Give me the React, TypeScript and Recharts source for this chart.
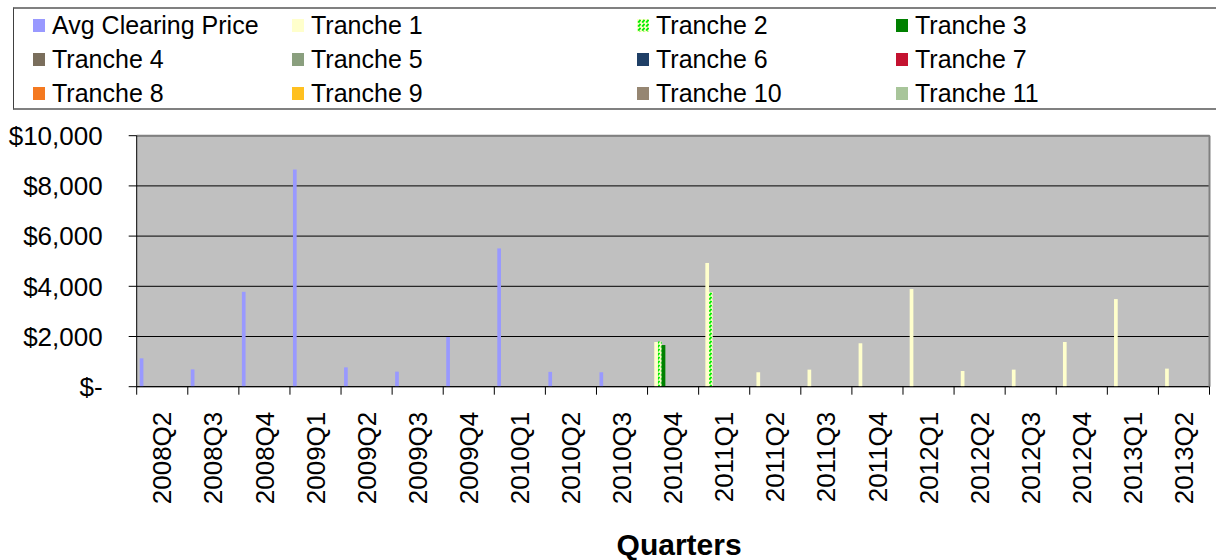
import React from 'react';
import { BarChart, Bar, XAxis, YAxis, CartesianGrid, Legend, ReferenceLine } from 'recharts';

const quarters = [
  '2008Q2', '2008Q3', '2008Q4', '2009Q1', '2009Q2', '2009Q3', '2009Q4',
  '2010Q1', '2010Q2', '2010Q3', '2010Q4', '2011Q1', '2011Q2', '2011Q3',
  '2011Q4', '2012Q1', '2012Q2', '2012Q3', '2012Q4', '2013Q1', '2013Q2',
];

const avgClearingPrice = [1130, 690, 3780, 8650, 770, 600, 1980, 5510, 590, 575, null, null, null, null, null, null, null, null, null, null, null];
const tranche1 = [null, null, null, null, null, null, null, null, null, null, 1780, 4930, 575, 680, 1730, 3890, 625, 680, 1780, 3490, 720];
const tranche2 = [null, null, null, null, null, null, null, null, null, null, 1800, 3770, null, null, null, null, null, null, null, null, null];
const tranche3 = [null, null, null, null, null, null, null, null, null, null, 1660, null, null, null, null, null, null, null, null, null, null];
const tranche4: (number | null)[] = [];
const tranche5: (number | null)[] = [];
const tranche6: (number | null)[] = [];
const tranche7: (number | null)[] = [];
const tranche8: (number | null)[] = [];
const tranche9: (number | null)[] = [];
const tranche10: (number | null)[] = [];
const tranche11: (number | null)[] = [];

const seriesNames = [
  'Avg Clearing Price', 'Tranche 1', 'Tranche 2', 'Tranche 3',
  'Tranche 4', 'Tranche 5', 'Tranche 6', 'Tranche 7',
  'Tranche 8', 'Tranche 9', 'Tranche 10', 'Tranche 11',
];
const seriesValues = [
  avgClearingPrice, tranche1, tranche2, tranche3, tranche4, tranche5,
  tranche6, tranche7, tranche8, tranche9, tranche10, tranche11,
];
const seriesColors = [
  '#9999FF', '#FFFFCC', 'url(#tranche2Pattern)', '#008000',
  '#7A6E5C', '#8A9F7E', '#1F3F66', '#C41230',
  '#F47920', '#FFC020', '#968672', '#A8C59A',
];

const yTicks = [0, 2000, 4000, 6000, 8000, 10000];

const data = quarters.map((q, i) => {
  const row: Record<string, any> = { quarter: q };
  seriesNames.forEach((name, k) => {
    const v = seriesValues[k][i];
    row[name] = v === undefined ? null : v;
  });
  return row;
});

const FONT = '"Liberation Sans", Arial, sans-serif';

const formatDollar = (v: number) => (v === 0 ? '$-' : '$' + v.toLocaleString('en-US'));

const legendCols = [33, 292, 637, 896];
const legendRows = [25, 59, 93];

const renderLegend = () => (
  <div style={{ position: 'relative', width: 1216, height: 112, fontFamily: FONT, overflow: 'hidden' }}>
    <div
      style={{
        position: 'absolute', left: 13, top: 7, width: 1210, height: 103,
        boxSizing: 'border-box', borderTop: '2px solid #808080',
        borderBottom: '2px solid #808080', borderLeft: '1px solid #404040',
      }}
    />
    {seriesNames.map((name, i) => {
      const col = i % 4;
      const row = Math.floor(i / 4);
      return (
        <div
          key={name}
          style={{
            position: 'absolute', left: legendCols[col], top: legendRows[row] - 15,
            height: 30, display: 'flex', alignItems: 'center', whiteSpace: 'nowrap',
          }}
        >
          <svg width={12} height={13} style={{ marginRight: 7, display: 'block' }}>
            <rect width={12} height={13} fill={seriesColors[i]} />
          </svg>
          <span style={{ fontSize: 25, color: '#000', lineHeight: '30px' }}>{name}</span>
        </div>
      );
    })}
  </div>
);

const XTick = (props: any) => {
  const { x, y, payload, index } = props;
  const off = payload && typeof payload.offset === 'number' ? payload.offset : 25.55;
  const ty = y + 25;
  return (
    <g>
      <line x1={x - off} x2={x - off} y1={y} y2={y + 8} stroke="#000" strokeWidth={1} />
      {index === quarters.length - 1 && (
        <line x1={x + off} x2={x + off} y1={y} y2={y + 8} stroke="#000" strokeWidth={1} />
      )}
      <text
        x={x}
        y={ty}
        dy="0.35em"
        textAnchor="end"
        transform={`rotate(-90, ${x}, ${ty})`}
        fontSize={26}
        fill="#000"
        fontFamily={FONT}
      >
        {payload.value}
      </text>
    </g>
  );
};

const renderTitle = (props: any) => {
  const vb = props.viewBox || {};
  return (
    <text
      x={vb.x + vb.width / 2 + 6}
      y={vb.y + vb.height - 5}
      textAnchor="middle"
      fontSize={30}
      fontWeight="bold"
      fill="#000"
      fontFamily={FONT}
    >
      Quarters
    </text>
  );
};

export default function App() {
  return (
    <div style={{ position: 'absolute', left: 0, top: 0, width: 1216, height: 560, fontFamily: FONT, background: '#fff', overflow: 'hidden' }}>
      <svg width={0} height={0} style={{ position: 'absolute' }}>
        <defs>
          <pattern id="tranche2Pattern" patternUnits="userSpaceOnUse" width={4} height={4}>
            <rect width={4} height={4} fill="#FFFFCC" />
            <path d="M1.2,3.6 L3.6,0.8" stroke="#00EE00" strokeWidth={2} />
          </pattern>
        </defs>
      </svg>
      <BarChart
        width={1216}
        height={560}
        data={data}
        margin={{ top: 23.7, right: 0, bottom: 0, left: 0 }}
        barSize={3.7}
        barGap={0}
      >
        <CartesianGrid vertical={false} stroke="#000" fill="#C0C0C0" fillOpacity={1} />
        <XAxis
          dataKey="quarter"
          interval={0}
          height={173.3}
          tickLine={false}
          tickSize={0}
          tickMargin={0}
          axisLine={{ stroke: '#000' }}
          tick={(p: any) => <XTick {...p} />}
          label={renderTitle}
        />
        <YAxis
          domain={[0, 10000]}
          ticks={yTicks}
          interval={0}
          tickFormatter={formatDollar}
          width={136.7}
          tickSize={8}
          tickMargin={26}
          axisLine={{ stroke: '#000' }}
          tickLine={{ stroke: '#000' }}
          tick={{ fill: '#000', fontSize: 26, fontFamily: FONT }}
        />
        <YAxis
          yAxisId="r"
          orientation="right"
          domain={[0, 10000]}
          width={6.5}
          tick={false}
          tickLine={false}
          axisLine={{ stroke: '#808080', strokeWidth: 2 }}
        />
        <ReferenceLine y={10000} stroke="#808080" strokeWidth={2} />
        <Legend
          verticalAlign="top"
          content={renderLegend}
          wrapperStyle={{ top: 0, left: 0, width: 1216, height: 112 }}
        />
        {seriesNames.map((name, i) => (
          <Bar key={name} dataKey={name} fill={seriesColors[i]} isAnimationActive={false} />
        ))}
      </BarChart>
    </div>
  );
}
